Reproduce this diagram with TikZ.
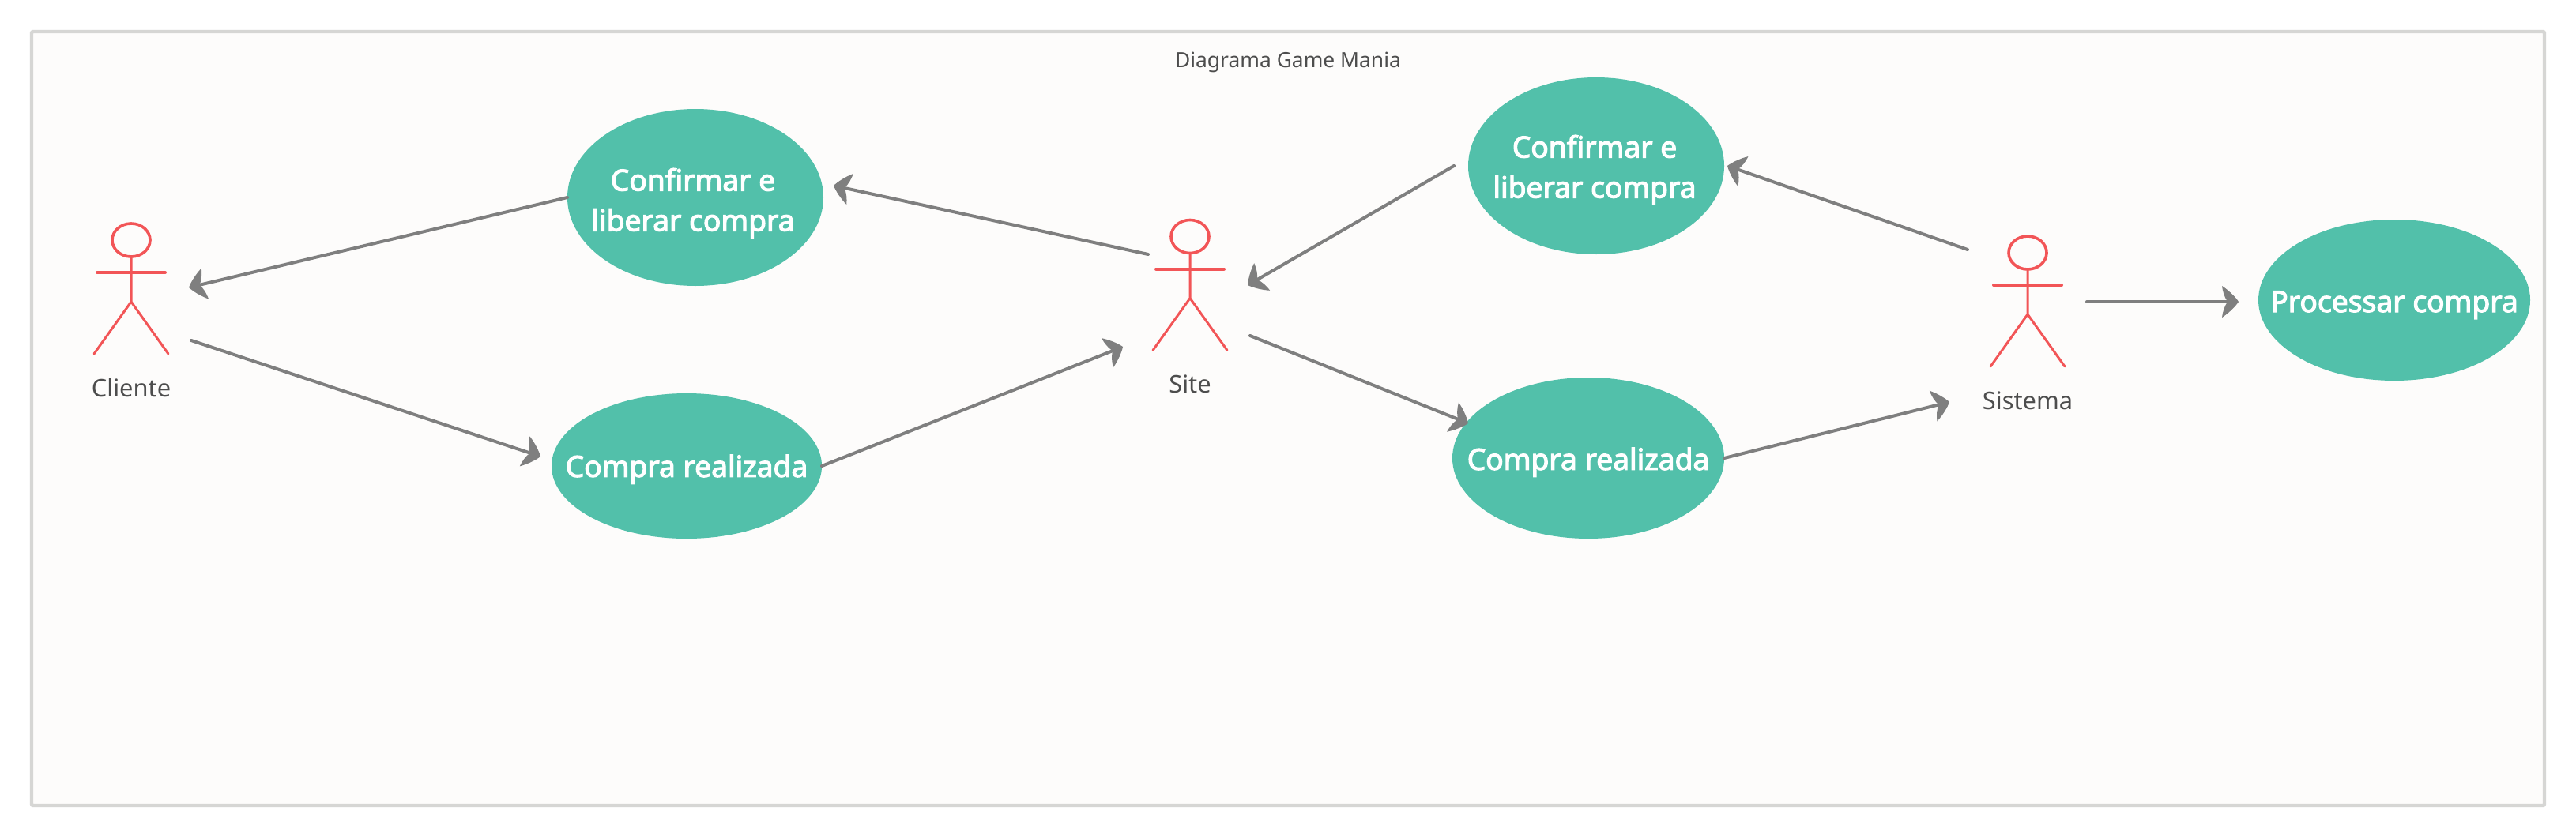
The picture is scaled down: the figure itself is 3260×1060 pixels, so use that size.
\documentclass[tikz,border=0pt]{standalone}
\usepackage{fontspec}
\setmainfont{Noto Sans}
\newfontfamily\casefont[FakeBold=3]{Noto Sans}
\usetikzlibrary{shapes.geometric,arrows.meta}
\definecolor{teal}{HTML}{52C0AA}
\definecolor{actorred}{HTML}{F25557}
\definecolor{wire}{HTML}{7F7F7F}
\definecolor{framec}{HTML}{D6D6D4}
\definecolor{paper}{HTML}{FDFCFB}
\definecolor{ink}{HTML}{4D4D4D}
\pgfdeclarearrow{
  name=Barbed,
  setup code={
    \pgfarrowssettipend{0pt}
    \pgfarrowssetlineend{-6pt}
    \pgfarrowssetvisualbackend{-10.5pt}
    \pgfarrowshullpoint{0pt}{0pt}
    \pgfarrowshullpoint{-10.5pt}{10pt}
    \pgfarrowshullpoint{-10.5pt}{-10pt}
  },
  drawing code={
    \pgfsetlinewidth{0pt}
    \pgfpathmoveto{\pgfqpoint{0pt}{0pt}}
    \pgfpathcurveto{\pgfqpoint{-2pt}{3pt}}{\pgfqpoint{-6pt}{7pt}}{\pgfqpoint{-10.5pt}{10pt}}
    \pgfpathcurveto{\pgfqpoint{-10pt}{6pt}}{\pgfqpoint{-9pt}{3pt}}{\pgfqpoint{-7pt}{0pt}}
    \pgfpathcurveto{\pgfqpoint{-9pt}{-3pt}}{\pgfqpoint{-10pt}{-6pt}}{\pgfqpoint{-10.5pt}{-10pt}}
    \pgfpathcurveto{\pgfqpoint{-6pt}{-7pt}}{\pgfqpoint{-2pt}{-3pt}}{\pgfqpoint{0pt}{0pt}}
    \pgfpathclose
    \pgfusepathqfill
  },
  defaults={}
}
\tikzset{
  x=0.5pt,y=-0.5pt,
  usecase/.style={ellipse,fill=teal,inner sep=0pt,outer sep=0pt},
  casetext/.style={text=white,align=center,inner sep=0pt,
    font=\casefont\fontsize{18.6}{25.5}\selectfont},
  actorline/.style={draw=actorred,line width=1.5pt,line cap=round,line join=round},
  actorhead/.style={ellipse,draw=actorred,line width=1.8pt,fill=paper,inner sep=0pt,outer sep=0pt,
    minimum width=24pt,minimum height=21pt},
  actorlabel/.style={text=ink,inner sep=0pt,font=\fontsize{15.4}{18}\selectfont},
  link/.style={draw=wire,line width=2pt,line cap=round,-{Barbed}},
}
\newcommand{\actor}[4]{% name, x of centre, y of head centre, label
  \node[actorhead] (#1head) at (#2,#3) {};
  \coordinate (#1hip)  at (#2,#3+78);
  \coordinate (#1arml) at (#2-43,#3+41);
  \coordinate (#1armr) at (#2+43,#3+41);
  \coordinate (#1legl) at (#2-47,#3+144);
  \coordinate (#1legr) at (#2+47,#3+144);
  \draw[actorline] (#1head.south) -- (#1hip) (#1legl) -- (#1hip) -- (#1legr);
  \draw[actorline,line width=2pt] (#1arml) -- (#1armr);
  \node[actorlabel] (#1label) at (#2,#3+187) {#4};
}
\begin{document}
\begin{tikzpicture}
\useasboundingbox (0,0) rectangle (3260,1060);
\fill[white] (0,0) rectangle (3260,1060);
\node[draw=framec,fill=paper,line width=2.2pt,rounded corners=1pt,minimum width=1590pt,minimum height=490pt,inner sep=0pt] (frame) at (1630,530) {};
\node[text=ink,inner sep=0pt,font=\fontsize{13.2}{16}\selectfont] (title) at (1630,79) {Diagrama Game Mania};

\node[usecase,minimum width=162pt,minimum height=112pt,label={[casetext,yshift=-3.6pt,xshift=-1.5pt]center:{Confirmar e\\liberar compra}}] (conf1) at (880,250) {};
\node[usecase,minimum width=171pt,minimum height=92pt,label={[casetext,yshift=-2.1pt]center:{Compra realizada}}] (comp1) at (869,590) {};
\node[usecase,minimum width=162pt,minimum height=112pt,label={[casetext,yshift=-2.6pt,xshift=-1pt]center:{Confirmar e\\liberar compra}}] (conf2) at (2020,210) {};
\node[usecase,minimum width=172pt,minimum height=102pt,label={[casetext,yshift=-2.6pt]center:{Compra realizada}}] (comp2) at (2010,580) {};
\node[usecase,minimum width=172pt,minimum height=102pt,label={[casetext,yshift=-3.1pt]center:{Processar compra}}] (proc) at (3030,380) {};

\actor{cli}{166}{304}{Cliente}
\actor{site}{1506}{299.5}{Site}
\actor{sis}{2566}{320}{Sistema}

\coordinate (cliIn) at (239,364);
\coordinate (cliOut) at (242,431);
\coordinate (comp1In) at (684,578);
\coordinate (siteInL) at (1421,439);
\coordinate (siteOutL) at (1453,322);
\coordinate (conf1In) at (1055,235);
\coordinate (conf2Out) at (1840,210);
\coordinate (siteInR) at (1579,361);
\coordinate (siteOutR) at (1582,425);
\coordinate (comp2In) at (1858,536);
\coordinate (sisOutU) at (2490,316);
\coordinate (conf2In) at (2186,210);
\coordinate (sisIn) at (2467,509);
\coordinate (sisOut) at (2641,382);
\coordinate (procIn) at (2833,382);

\draw[link] (conf1.west) -- (cliIn);
\draw[link] (cliOut) -- (comp1In);
\draw[link] (comp1.east) -- (siteInL);
\draw[link] (siteOutL) -- (conf1In);
\draw[link] (conf2Out) -- (siteInR);
\draw[link] (siteOutR) -- (comp2In);
\draw[link] (sisOutU) -- (conf2In);
\draw[link] (comp2.east) -- (sisIn);
\draw[link] (sisOut) -- (procIn);
\end{tikzpicture}
\end{document}
